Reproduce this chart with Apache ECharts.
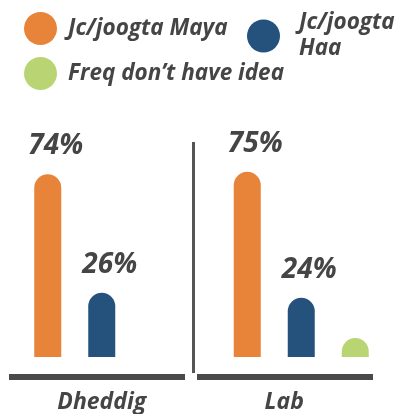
<!DOCTYPE html>
<html>
<head>
<meta charset="utf-8">
<script src="https://cdn.jsdelivr.net/npm/echarts@6/dist/echarts.min.js"></script>
<style>
html,body{margin:0;padding:0;background:#fff;}
#main{width:401px;height:414px;}
</style>
</head>
<body>
<div id="main"></div>
<script>
// ---- data ----
var categories = ['Dheddig', 'Lab'];
var seriesNames = ['Jc/joogta Maya', 'Jc/joogta Haa', 'Freq don\u2019t have idea'];
var mayaValues = [74, 75];
var haaValues = [26, 24];
var noIdeaValues = [null, 1];

var colors = ['#E8833A', '#24527D', '#B9D473'];
var textColor = '#454545';
var fontFamily = 'Open Sans';

var chart = echarts.init(document.getElementById('main'));

function legendCfg(name, left, top, extraPad) {
  return {
    data: [name],
    left: left, top: top, padding: 0,
    icon: 'circle', itemWidth: 33, itemHeight: 33,
    selectedMode: false,
    formatter: function (n) { return n === 'Jc/joogta Haa' ? 'Jc/joogta\nHaa' : n; },
    textStyle: {
      color: textColor, fontFamily: fontFamily, fontSize: 22.5,
      fontWeight: 'bold', fontStyle: 'italic', lineHeight: 26,
      padding: extraPad
    }
  };
}

var labelStyle = {
  show: true, position: 'top', distance: 14, offset: [8, 0],
  formatter: '{c}%', color: textColor, fontFamily: fontFamily,
  fontSize: 28, fontWeight: 'bold', fontStyle: 'italic'
};

var option = {
  animation: false,
  legend: [
    legendCfg(seriesNames[0], 24, 12, [0, 0, 0, 6]),
    legendCfg(seriesNames[1], 247, 10, [0, 0, 0, 14]),
    legendCfg(seriesNames[2], 24, 57, [0, 0, 0, 6])
  ],
  grid: { left: 2, width: 400, top: 110, bottom: 56 },
  xAxis: {
    type: 'category',
    data: categories.map(function (c, i) {
      return i === 1 ? { value: c, textStyle: { padding: [0, 34, 0, 0] } } : c;
    }),
    axisLine: { show: false }, axisTick: { show: false },
    axisLabel: {
      margin: 34, color: textColor, fontFamily: fontFamily,
      fontSize: 23, fontWeight: 'bold', fontStyle: 'italic'
    }
  },
  yAxis: { type: 'value', min: 0, max: 100, show: false, splitLine: { show: false } },
  series: [
    { name: seriesNames[0], type: 'bar', data: mayaValues, barWidth: 27, barGap: '100%',
      itemStyle: { color: colors[0], borderRadius: [13.5, 13.5, 0, 0] }, label: labelStyle },
    { name: seriesNames[1], type: 'bar', data: haaValues, barWidth: 27, barGap: '100%',
      itemStyle: { color: colors[1], borderRadius: [13.5, 13.5, 0, 0] }, label: labelStyle },
    { name: seriesNames[2], type: 'bar', data: noIdeaValues, barWidth: 27, barGap: '100%',
      barMinHeight: 19,
      itemStyle: { color: colors[2], borderRadius: [13.5, 13.5, 0, 0] }, label: { show: false } }
  ],
  graphic: [
    { type: 'rect', shape: { x: 9, y: 374, width: 176, height: 6 }, style: { fill: '#4A4A4A' } },
    { type: 'rect', shape: { x: 197, y: 374, width: 176, height: 6 }, style: { fill: '#4A4A4A' } },
    { type: 'rect', shape: { x: 192, y: 142, width: 3, height: 231 }, style: { fill: '#555555' } }
  ]
};
chart.setOption(option);
</script>
</body>
</html>
